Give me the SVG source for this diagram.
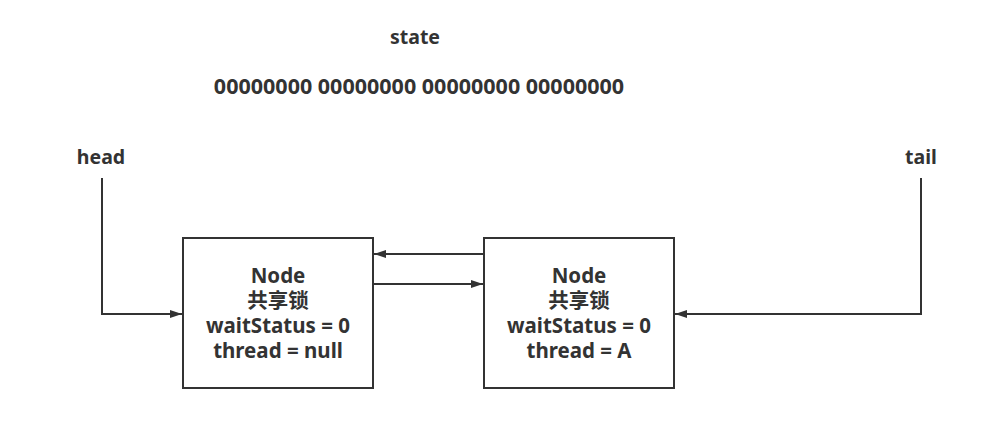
<svg xmlns="http://www.w3.org/2000/svg" width="1000" height="427" viewBox="0 0 1000 427">
<style>
text{font-family:"Noto Sans","Noto Sans CJK SC",sans-serif;font-weight:bold;fill:#333;font-size:19.5px}
.c{text-anchor:middle}
.n{font-size:20.5px}
.box{fill:#fff;stroke:#333;stroke-width:2}
.ln{fill:none;stroke:#333;stroke-width:2}
</style>
<defs>
<marker id="ah" markerWidth="12" markerHeight="8" refX="12" refY="4" orient="auto" markerUnits="userSpaceOnUse">
<path d="M0,0 L12,4 L0,8 Z" fill="#333"/>
</marker>
</defs>
<rect width="1000" height="427" fill="#fff"/>
<text class="c" x="415" y="44">state</text>
<text class="c" x="419" y="94" style="font-size:21.5px">00000000 00000000 00000000 00000000</text>
<text class="c" x="101" y="164">head</text>
<text class="c" x="921" y="164">tail</text>
<g id="node1">
<rect class="box" x="183" y="238" width="190" height="150"/>
<text class="c n" x="278" y="283">Node</text>
<text class="c n" x="278" y="308">共享锁</text>
<text class="c n" x="278" y="333">waitStatus = 0</text>
<text class="c n" x="278" y="358">thread = null</text>
</g>
<g id="node2">
<rect class="box" x="484" y="238" width="190" height="150"/>
<text class="c n" x="579" y="283">Node</text>
<text class="c n" x="579" y="308">共享锁</text>
<text class="c n" x="579" y="333">waitStatus = 0</text>
<text class="c n" x="579" y="358">thread = A</text>
</g>
<g id="connectors">
<path class="ln" d="M484,254 L374,254" marker-end="url(#ah)"/>
<path class="ln" d="M373,284 L483,284" marker-end="url(#ah)"/>
<path class="ln" d="M102,178 L102,314 L182,314" marker-end="url(#ah)"/>
<path class="ln" d="M921,178 L921,314 L675,314" marker-end="url(#ah)"/>
</g>
</svg>
